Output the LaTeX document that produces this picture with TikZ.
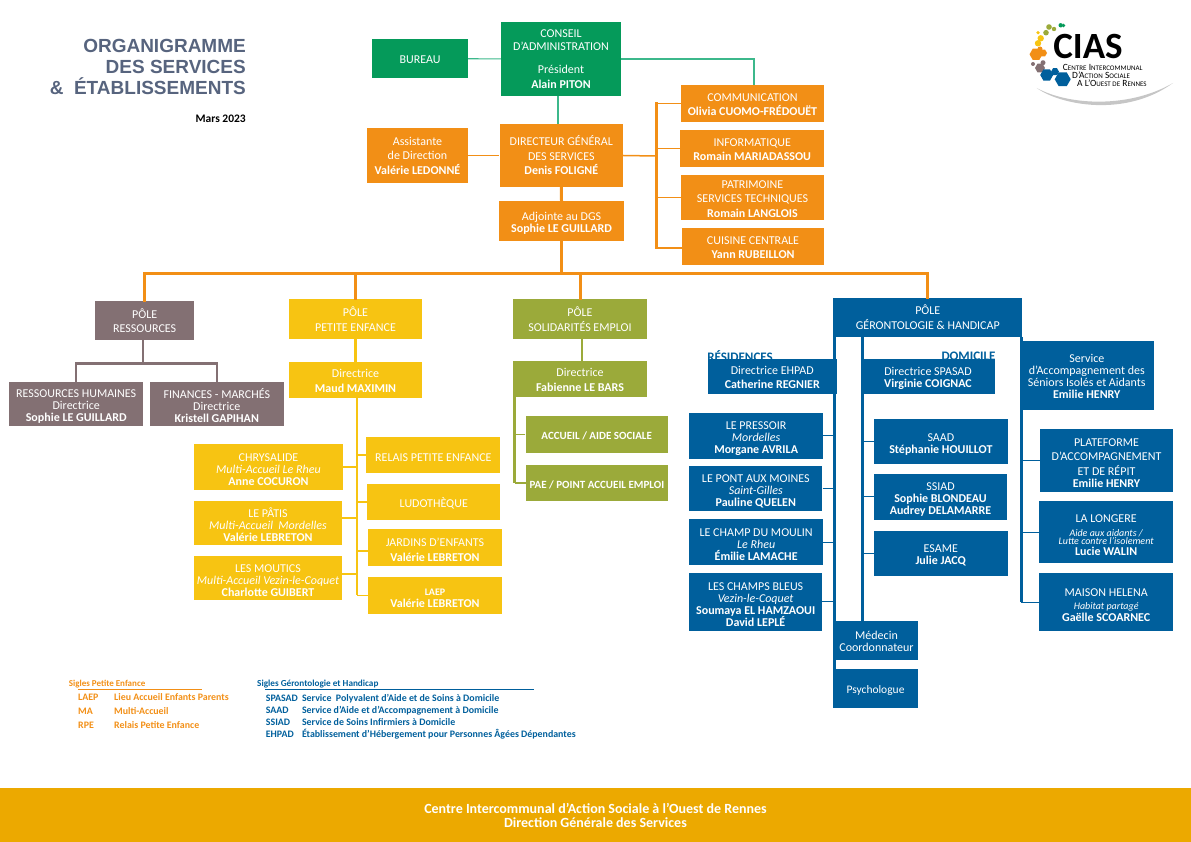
\documentclass[tikz,border=0pt]{standalone}
\usepackage{fontspec}
\setmainfont{Carlito}
\newfontfamily\titlefont{Liberation Sans}
\usetikzlibrary{shapes.geometric, positioning, calc}
\definecolor{ciasgreen}{RGB}{5, 154, 90}
\definecolor{ciaslinegreen}{RGB}{60, 184, 139}
\definecolor{ciasorange}{RGB}{242, 143, 22}
\definecolor{ciasgray}{RGB}{131, 112, 115}
\definecolor{ciasyellow}{RGB}{247, 196, 18}
\definecolor{ciasolive}{RGB}{155, 170, 58}
\definecolor{ciasblue}{RGB}{0, 95, 156}
\definecolor{ciasfooter}{RGB}{236, 169, 0}
\definecolor{ciastitle}{RGB}{87, 100, 126}
\tikzset{
    basebox/.style={rectangle, inner sep=0pt, text=white, align=center, font=\fontsize{12}{14.5}\selectfont, execute at begin node=\rule{0pt}{10.5pt}},
    lowered/.style={execute at begin node=\rule{0pt}{13pt}},
    tight/.style={font=\fontsize{12}{12}\selectfont},
    greenbox/.style={basebox, fill=ciasgreen},
    orangebox/.style={basebox, fill=ciasorange},
    graybox/.style={basebox, fill=ciasgray},
    yellowbox/.style={basebox, fill=ciasyellow},
    olivebox/.style={basebox, fill=ciasolive},
    bluebox/.style={basebox, fill=ciasblue},
    greenline/.style={draw=ciaslinegreen, line width=1.2pt},
    orangeline/.style={draw=ciasorange, line width=1.5pt},
    orangebar/.style={draw=ciasorange, line width=3pt, line cap=rect},
    grayline/.style={draw=ciasgray, line width=2.5pt, line cap=rect},
    yellowline/.style={draw=ciasyellow, line width=1.5pt},
    yellowbar/.style={draw=ciasyellow, line width=2.5pt},
    oliveline/.style={draw=ciasolive, line width=1.5pt},
    olivebar/.style={draw=ciasolive, line width=2.5pt},
    blueline/.style={draw=ciasblue, line width=1pt},
    bluebar/.style={draw=ciasblue, line width=2.5pt},
    legendorange/.style={anchor=base west, inner sep=0pt, text=ciasorange, font=\fontsize{9.9}{11}\selectfont\bfseries},
    legendblue/.style={anchor=base west, inner sep=0pt, text=ciasblue, font=\fontsize{9.9}{11}\selectfont\bfseries},
    hexa/.style={regular polygon, regular polygon sides=6, inner sep=0pt},
    dot/.style={circle, inner sep=0pt},
}
\newcommand{\logocap}[2]{{\fontsize{9.5}{9.5}\selectfont #1}{\fontsize{7}{7}\selectfont #2}}
\newcommand{\smallitalic}[1]{{\fontsize{10}{10}\selectfont\itshape #1}}
\newcommand{\lowline}{\rule{0pt}{13pt}}
\begin{document}
\begin{tikzpicture}[x=1pt, y=-1pt]
    \useasboundingbox (0,0) rectangle (1191,842);
    % title
    \node[anchor=east, inner sep=0pt, align=right, text=ciastitle, font=\titlefont\fontsize{19}{21}\selectfont\bfseries] (title) at (246,66.5) {ORGANIGRAMME\\DES SERVICES\\\&\ \ ÉTABLISSEMENTS};
    \node[anchor=east, inner sep=0pt, font=\fontsize{11.5}{12}\selectfont\bfseries] (date) at (246,119) {Mars 2023};

    % direction
    \node[greenbox, minimum width=96pt, minimum height=38.5pt] (bureau) at (420,58.75) {BUREAU};
    \node[greenbox, minimum width=120pt, minimum height=74pt] (conseil) at (561,59) {CONSEIL\\[-2pt]D’ADMINISTRATION\\[9pt]Président\\\textbf{Alain PITON}};
    \node[orangebox, minimum width=123.4pt, minimum height=63pt] (directeur) at (561.3,155.5) {DIRECTEUR GÉNÉRAL\\DES SERVICES\\\textbf{Denis FOLIGNÉ}};
    \node[orangebox, minimum width=101pt, minimum height=55pt] (assistante) at (417.5,155.5) {Assistante\\de Direction\\\textbf{Valérie LEDONNÉ}};
    \node[orangebox, tight, minimum width=125pt, minimum height=40pt] (adjointe) at (561.5,221) {\lowline Adjointe au DGS\\\textbf{Sophie LE GUILLARD}};
    \node[orangebox, minimum width=143pt, minimum height=37pt] (communication) at (752.5,103.5) {\rule{0pt}{10.5pt}COMMUNICATION\\\textbf{Olivia CUOMO-FRÉDOUËT}};
    \node[orangebox, minimum width=143.6pt, minimum height=37pt] (informatique) at (752.2,148.5) {\rule{0pt}{10.5pt}INFORMATIQUE\\\textbf{Romain MARIADASSOU}};
    \node[orangebox, minimum width=143pt, minimum height=45pt] (patrimoine) at (752.5,197.5) {\rule{0pt}{10.5pt}PATRIMOINE\\SERVICES TECHNIQUES\\\textbf{Romain LANGLOIS}};
    \node[orangebox, minimum width=142pt, minimum height=37pt] (cuisine) at (753,246.5) {\rule{0pt}{10.5pt}CUISINE CENTRALE\\\textbf{Yann RUBEILLON}};

    % poles
    \node[graybox, minimum width=98.6pt, minimum height=39.3pt] (poleressources) at (144.7,320.4) {PÔLE\\RESSOURCES};
    \node[yellowbox, minimum width=133pt, minimum height=40pt] (polepetite) at (355.5,319) {PÔLE\\PETITE ENFANCE};
    \node[olivebox, minimum width=133.2pt, minimum height=40pt] (polesolidarites) at (580,319) {PÔLE\\SOLIDARITÉS EMPLOI};
    \node[bluebox, minimum width=189pt, minimum height=39pt] (polegeronto) at (927.8,317.2) {PÔLE\\GÉRONTOLOGIE \& HANDICAP};

    % ressources
    \node[graybox, tight, minimum width=134.5pt, minimum height=43.7pt] (rh) at (76.2,403.9) {\lowline RESSOURCES HUMAINES\\Directrice\\\textbf{Sophie LE GUILLARD}};
    \node[graybox, tight, minimum width=133.6pt, minimum height=44pt] (finances) at (216.8,404) {\lowline FINANCES - MARCHÉS\\Directrice\\\textbf{Kristell GAPIHAN}};

    % petite enfance
    \node[yellowbox, minimum width=133pt, minimum height=35.7pt] (dirpetite) at (355.5,380) {\rule{0pt}{10.5pt}Directrice\\\textbf{Maud MAXIMIN}};
    \node[yellowbox, lowered, minimum width=134pt, minimum height=36pt] (relais) at (433.4,455) {RELAIS PETITE ENFANCE};
    \node[yellowbox, lowered, minimum width=133pt, minimum height=36pt] (ludo) at (433.8,502) {LUDOTHÈQUE};
    \node[yellowbox, minimum width=134pt, minimum height=36.7pt] (jardins) at (435,547.35) {\lowline JARDINS D’ENFANTS\\\textbf{Valérie LEBRETON}};
    \node[yellowbox, tight, minimum width=134pt, minimum height=36.7pt] (laep) at (435,595.35) {\lowline{\fontsize{10}{10}\selectfont\bfseries LAEP}\\\textbf{Valérie LEBRETON}};
    \node[yellowbox, tight, minimum width=149pt, minimum height=45.7pt] (chrysalide) at (268.5,466.85) {\lowline CHRYSALIDE\\\textit{Multi-Accueil Le Rheu}\\\textbf{Anne COCURON}};
    \node[yellowbox, tight, minimum width=148pt, minimum height=43.7pt] (patis) at (268,522.85) {\lowline LE PÂTIS\\\textit{Multi-Accueil\ \ Mordelles}\\\textbf{Valérie LEBRETON}};
    \node[yellowbox, tight, minimum width=148pt, minimum height=43.7pt] (moutics) at (268,577.85) {\lowline LES MOUTICS\\\textit{Multi-Accueil Vezin-le-Coquet}\\\textbf{Charlotte GUIBERT}};

    % solidarites
    \node[olivebox, minimum width=133.2pt, minimum height=36pt] (dirsolidarites) at (580,379) {\rule{0pt}{10.5pt}Directrice\\\textbf{Fabienne LE BARS}};
    \node[olivebox, minimum width=142.2pt, minimum height=37pt, font=\fontsize{11}{12}\selectfont\bfseries] (accueil) at (596.7,434.5) {ACCUEIL / AIDE SOCIALE};
    \node[olivebox, minimum width=141.8pt, minimum height=36pt, font=\fontsize{11}{12}\selectfont\bfseries] (pae) at (596.9,483) {PAE / POINT ACCUEIL EMPLOI};

    % gerontologie, labels behind the directrice boxes
    \node[inner sep=0pt, text=ciasblue, font=\fontsize{13}{14}\selectfont\bfseries] (residences) at (740,356) {RÉSIDENCES};
    \node[inner sep=0pt, text=ciasblue, font=\fontsize{13}{14}\selectfont\bfseries] (domicile) at (968.5,356) {DOMICILE};
    \node[bluebox, minimum width=128.7pt, minimum height=34.7pt] (ehpad) at (772.3,376.35) {\rule{0pt}{10.5pt}Directrice EHPAD\\\textbf{Catherine REGNIER}};
    \node[bluebox, tight, minimum width=133.4pt, minimum height=34.7pt] (spasad) at (928,376.35) {\lowline Directrice SPASAD\\\textbf{Virginie COIGNAC}};
    \node[bluebox, tight, minimum width=133.7pt, minimum height=68.7pt] (accompagnement) at (1086.8,375.35) {\rule{0pt}{10.5pt}Service\\d’Accompagnement des\\Séniors Isolés et Aidants\\\textbf{Emilie HENRY}};
    \node[bluebox, tight, minimum width=133.7pt, minimum height=45.7pt] (pressoir) at (756.15,435.85) {\lowline LE PRESSOIR\\\textit{Mordelles}\\\textbf{Morgane AVRILA}};
    \node[bluebox, tight, minimum width=133pt, minimum height=45.3pt] (pont) at (755.8,488.65) {\lowline LE PONT AUX MOINES\\\textit{Saint-Gilles}\\\textbf{Pauline QUELEN}};
    \node[bluebox, tight, minimum width=133.7pt, minimum height=45.4pt] (champ) at (756.15,542) {\lowline LE CHAMP DU MOULIN\\\textit{Le Rheu}\\\textbf{Émilie LAMACHE}};
    \node[bluebox, tight, minimum width=132.7pt, minimum height=57.7pt] (bleus) at (755.65,601.85) {\lowline LES CHAMPS BLEUS\\\textit{Vezin-le-Coquet}\\\textbf{Soumaya EL HAMZAOUI}\\\textbf{David LEPLÉ}};
    \node[bluebox, tight, minimum width=133.7pt, minimum height=45.3pt] (saad) at (940.85,441.65) {\lowline SAAD\\\textbf{Stéphanie HOUILLOT}};
    \node[bluebox, tight, minimum width=133pt, minimum height=45.7pt] (ssiad) at (940.5,496.85) {\lowline SSIAD\\\textbf{Sophie BLONDEAU}\\\textbf{Audrey DELAMARRE}};
    \node[bluebox, tight, minimum width=133.7pt, minimum height=45pt] (esame) at (940.85,553.2) {\lowline ESAME\\\textbf{Julie JACQ}};
    \node[bluebox, minimum width=133pt, minimum height=62.4pt] (plateforme) at (1106.5,460.5) {\lowline PLATEFORME\\D’ACCOMPAGNEMENT\\ET DE RÉPIT\\[-2.5pt]\textbf{Emilie HENRY}};
    \node[bluebox, minimum width=133.7pt, minimum height=62pt] (longere) at (1106.15,532.3) {\lowline LA LONGERE\\\smallitalic{Aide aux aidants /}\\[-6.5pt]\smallitalic{Lutte contre l’isolement}\\[-3.5pt]\textbf{Lucie WALIN}};
    \node[bluebox, tight, minimum width=133.7pt, minimum height=58pt] (helena) at (1106.15,602.3) {\lowline MAISON HELENA\\[1pt]\smallitalic{Habitat partagé}\\\textbf{Gaëlle SCOARNEC}};
    \node[bluebox, tight, minimum width=83pt, minimum height=38.7pt] (medecin) at (876.5,640.35) {\rule{0pt}{10.5pt}Médecin\\Coordonnateur};
    \node[bluebox, lowered, minimum width=85pt, minimum height=38.7pt, font=\fontsize{11.5}{12}\selectfont] (psychologue) at (875.5,688.35) {Psychologue};

    % connectors
    \coordinate (topbar) at (144.7,274);
    \coordinate (servicesbar) at (656,156);
    \coordinate (ressourcesbar) at (143,363.6);
    \coordinate (petitebar) at (357,500);
    \coordinate (solidaritesbar) at (514.7,400);
    \coordinate (residencesbar) at (834.7,400);
    \coordinate (domicilebar) at (862.7,400);
    \coordinate (aidantsbar) at (1021.3,400);
    \coordinate (conseilstem) at (558,100);

    \draw[greenline] (bureau) -- (conseil);
    \draw[greenline] (conseil.south -| conseilstem) -- (directeur.north -| conseilstem);
    \draw[greenline] (conseil.east) -| ([xshift=1.5pt]communication.north);
    \draw[orangeline] (assistante) -- (directeur);
    \draw[orangebar] (directeur.south) -- (adjointe.north);
    \draw[orangeline] (directeur.east) -- (servicesbar);
    \draw[orangebar] (communication.west -| servicesbar) -- ([yshift=-1.5pt]cuisine.west -| servicesbar);
    \foreach \service in {communication, informatique, patrimoine}
        \draw[orangeline] (\service.west) -- (\service.west -| servicesbar);
    \draw[orangeline] ([yshift=-1.5pt]cuisine.west) -- ([yshift=-1.5pt]cuisine.west -| servicesbar);
    \draw[orangebar] (adjointe.south) -- (adjointe.south |- topbar);
    \draw[orangebar] (poleressources.north) -- (topbar) -- (topbar -| polegeronto.north) -- (polegeronto.north);
    \draw[orangebar] (polepetite.north) -- (polepetite.north |- topbar);
    \draw[orangebar] (polesolidarites.north) -- (polesolidarites.north |- topbar);

    \draw[grayline] (poleressources.south -| ressourcesbar) -- (ressourcesbar);
    \draw[grayline] (rh.north) -- (rh.north |- ressourcesbar) -- (finances.north |- ressourcesbar) -- (finances.north);

    \draw[yellowbar] (polepetite) -- (dirpetite);
    \draw[yellowbar] (dirpetite.south -| petitebar) -- (laep.west -| petitebar);
    \draw[yellowline] (chrysalide.east) -- (chrysalide.east -| petitebar);
    \draw[yellowline] ([yshift=5pt]patis.east) -- ([yshift=5pt]patis.east -| petitebar);
    \draw[yellowline] ([yshift=4pt]moutics.east) -- ([yshift=4pt]moutics.east -| petitebar);
    \foreach \service in {relais, ludo, laep}
        \draw[yellowline] (\service.west) -- (\service.west -| petitebar);
    \draw[yellowline] ([yshift=-3.6pt]jardins.west) -- ([yshift=-3.6pt]jardins.west -| petitebar);

    \draw[olivebar] ([xshift=2pt]polesolidarites.south) -- ([xshift=2pt]dirsolidarites.north);
    \draw[olivebar] (dirsolidarites.south -| solidaritesbar) -- (pae.west -| solidaritesbar);
    \foreach \service in {accueil, pae}
        \draw[oliveline] (\service.west) -- (\service.west -| solidaritesbar);

    \draw[bluebar] (polegeronto.south -| residencesbar) -- (psychologue.north -| residencesbar);
    \draw[bluebar] (polegeronto.south -| domicilebar) -- (medecin.north -| domicilebar);
    \draw[bluebar] (polegeronto.south -| aidantsbar) -- (helena.west -| aidantsbar);
    \foreach \site in {pressoir, pont, champ, bleus}
        \draw[blueline] (\site.east) -- (\site.east -| residencesbar);
    \foreach \site in {saad, ssiad, esame}
        \draw[blueline] (\site.west) -- (\site.west -| domicilebar);
    \foreach \site in {plateforme, longere, helena}
        \draw[blueline] (\site.west) -- (\site.west -| aidantsbar);

    % legends
    \node[legendorange] (siglespetite) at (68.6,686.3) {\fontsize{9}{10}\selectfont Sigles Petite Enfance};
    \coordinate (siglespetiteleft) at (78,689.7);
    \coordinate (siglespetiteright) at (202,689.7);
    \draw[draw=ciasorange, line width=.8pt] (siglespetiteleft) -- (siglespetiteright);
    \node[legendorange] (laepsigle) at (78,700) {LAEP};
    \node[legendorange] (laepdesc) at (114,700) {Lieu Accueil Enfants Parents};
    \node[legendorange] (masigle) at (78,714.2) {MA};
    \node[legendorange] (madesc) at (114,714.2) {Multi-Accueil};
    \node[legendorange] (rpesigle) at (78,728.2) {RPE};
    \node[legendorange] (rpedesc) at (114,728.2) {Relais Petite Enfance};

    \node[legendblue] (siglesgeronto) at (257,686.3) {\fontsize{9.2}{10}\selectfont Sigles Gérontologie et Handicap};
    \coordinate (siglesgerontoleft) at (265,689.5);
    \coordinate (siglesgerontoright) at (533.6,689.5);
    \draw[draw=ciasblue, line width=.8pt] (siglesgerontoleft) -- (siglesgerontoright);
    \node[legendblue] (spasadsigle) at (265.7,701) {SPASAD};
    \node[legendblue] (spasaddesc) at (301.8,701) {Service\ \ Polyvalent d’Aide et de Soins à Domicile};
    \node[legendblue] (saadsigle) at (265.7,713.2) {SAAD};
    \node[legendblue] (saaddesc) at (301.8,713.2) {Service d’Aide et d’Accompagnement à Domicile};
    \node[legendblue] (ssiadsigle) at (265.7,725.2) {SSIAD};
    \node[legendblue] (ssiaddesc) at (301.8,725.2) {Service de Soins Infirmiers à Domicile};
    \node[legendblue] (ehpadsigle) at (265.7,737.2) {EHPAD};
    \node[legendblue] (ehpaddesc) at (301.8,737.2) {Établissement d’Hébergement pour Personnes Âgées Dépendantes};

    % footer
    \node[rectangle, inner sep=0pt, fill=ciasfooter, minimum width=1191pt, minimum height=54.3pt] (footer) at (595.5,814.85) {};
    \node[inner sep=0pt, align=center, text=white, font=\fontsize{14}{14}\selectfont\bfseries] (footertext) at (595.5,815.2) {Centre Intercommunal d’Action Sociale à l’Ouest de Rennes\\Direction Générale des Services};

    % logo
    \fill[gray!45] (1036.7,88) .. controls (1060,105) and (1125,118) .. (1173,83) .. controls (1130,108) and (1070,106) .. (1036.7,88) -- cycle;
    \foreach \x/\y/\r/\c [count=\n] in {1060.7/25.3/2.2/ciasgreen, 1063.5/25.5/1.8/ciasgreen, 1049/27/2.8/ciasolive, 1046/32.7/2.8/ciasolive, 1054/29/2.2/ciasolive, 1038/32.7/1.8/ciasyellow, 1040.7/38.3/3.2/ciasyellow, 1038/43.3/3.2/ciasyellow, 1040/49/2.5/ciasorange, 1033/64/2/ciasgray, 1043/62.7/2.5/ciasgray} {
        \node[dot, fill=\c, minimum size=2*\r pt] (logodot\n) at (\x,\y) {};
    }
    \foreach \x/\y/\r/\c [count=\n] in {1036/54.3/13/ciasorange, 1043/53/8/ciasorange, 1040/68/10/ciasgray, 1046.7/75/13/ciasblue, 1055/71.7/8/ciasblue, 1062.7/79.3/16/ciasblue} {
        \node[hexa, fill=\c, minimum size=\r pt] (logohexa\n) at (\x,\y) {};
    }
    \node[inner sep=0pt, font=\fontsize{37}{37}\selectfont\bfseries] (logoname) at (1088,46) {CIAS};
    \node[anchor=west, inner sep=0pt] (logoline) at (1062.7,67) {\logocap{C}{ENTRE} \logocap{I}{NTERCOMMUNAL}};
    \node[anchor=west, inner sep=0pt] (logolinetwo) at (1072,75.3) {\logocap{D’A}{CTION} \logocap{S}{OCIALE}};
    \node[anchor=west, inner sep=0pt] (logolinethree) at (1077,83.3) {\logocap{A L’O}{UEST DE} \logocap{R}{ENNES}};
\end{tikzpicture}
\end{document}
